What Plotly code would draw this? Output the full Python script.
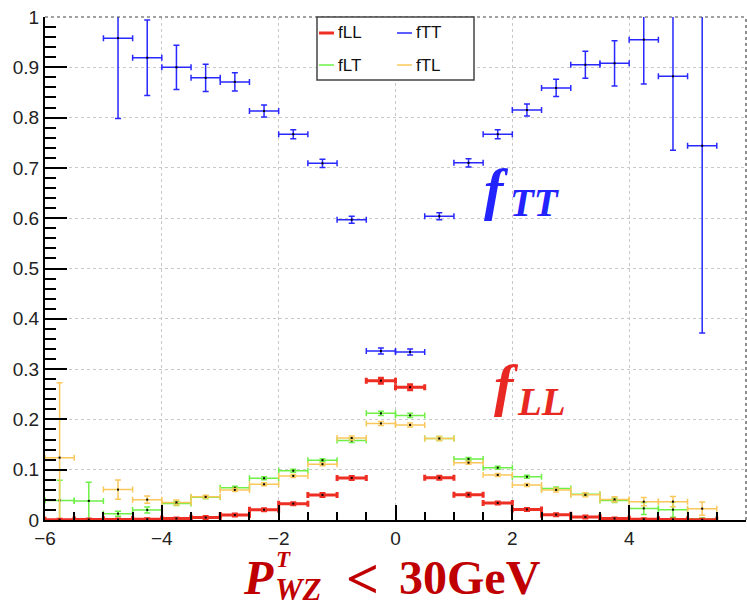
import plotly.graph_objects as go

# ---- data: helicity fractions per bin (bin width 0.5) ----
bin_centers = [-5.75, -5.25, -4.75, -4.25, -3.75, -3.25, -2.75, -2.25, -1.75, -1.25,
               -0.75, -0.25, 0.25, 0.75, 1.25, 1.75, 2.25, 2.75, 3.25, 3.75,
               4.25, 4.75, 5.25]
half_width = 0.25

fLL = [0.0005, 0.0008, 0.001, 0.0015, 0.003, 0.005, 0.010, 0.0205, 0.0325, 0.0498,
       0.0837, 0.277, 0.264, 0.084, 0.0504, 0.0339, 0.021, 0.0106, 0.006, 0.003,
       0.0015, 0.001, 0.0005]
fLL_err = [0.001, 0.001, 0.001, 0.001, 0.001, 0.002, 0.002, 0.002, 0.002, 0.003,
           0.003, 0.005, 0.005, 0.003, 0.003, 0.002, 0.002, 0.002, 0.002, 0.001,
           0.001, 0.001, 0.001]

fLT = [0.039, 0.038, 0.0126, 0.020, 0.033, 0.045, 0.064, 0.083, 0.098, 0.119,
       0.158, 0.212, 0.208, 0.162, 0.1215, 0.104, 0.086, 0.0624, 0.051, 0.039,
       0.023, 0.0206, 0.002]
fLT_err = [0.040, 0.037, 0.005, 0.006, 0.004, 0.003, 0.003, 0.003, 0.003, 0.003,
           0.004, 0.004, 0.004, 0.004, 0.003, 0.003, 0.003, 0.003, 0.003, 0.004,
           0.012, 0.015, 0.002]

fTL = [0.124, None, 0.0604, 0.0405, 0.035, 0.046, 0.0598, 0.071, 0.0876, 0.111,
       0.163, 0.192, 0.189, 0.162, 0.114, 0.0896, 0.0697, 0.0598, 0.050, 0.041,
       0.0365, 0.0365, 0.0226]
fTL_err = [0.149, None, 0.019, 0.007, 0.005, 0.003, 0.003, 0.003, 0.003, 0.003,
           0.004, 0.004, 0.004, 0.004, 0.003, 0.003, 0.003, 0.004, 0.004, 0.005,
           0.008, 0.010, 0.013]

fTT = [None, None, 0.958, 0.919, 0.900, 0.879, 0.871, 0.813, 0.767, 0.709,
       0.597, 0.336, 0.334, 0.604, 0.710, 0.767, 0.815, 0.859, 0.905, 0.908,
       0.955, 0.882, 0.744]
fTT_err = [None, None, 0.16, 0.075, 0.044, 0.027, 0.018, 0.012, 0.009, 0.008,
           0.007, 0.006, 0.006, 0.007, 0.008, 0.009, 0.012, 0.017, 0.027, 0.045,
           0.088, 0.147, 0.372]

x_ticks = [-6, -4, -2, 0, 2, 4, 6]

# ---- styles ----
BLUE = "rgb(40,40,255)"
RED = "rgb(238,45,35)"
GREEN = "rgb(110,240,70)"
ORANGE = "rgb(250,200,90)"
CAPTION = "rgb(192,0,0)"

W, H = 747, 602
ML, MR, MT, MB = 45, 1, 17, 82
PW, PH = W - ML - MR, H - MT - MB


def px(xp):
    return (xp - ML) / PW


def py(yp):
    return (H - MB - yp) / PH


def hist_trace(name, y, err, color, thick):
    return go.Scatter(
        x=bin_centers, y=y, name=name, mode="markers",
        marker=dict(size=2, color="black", symbol="square"),
        error_x=dict(type="constant", value=half_width, color=color,
                     thickness=thick, width=3),
        error_y=dict(type="data", array=err, color=color,
                     thickness=thick, width=3),
        showlegend=False, hoverinfo="x+y",
    )


fig = go.Figure()
fig.add_trace(hist_trace("fLT", fLT, fLT_err, GREEN, 1.5))
fig.add_trace(hist_trace("fTL", fTL, fTL_err, ORANGE, 1.5))
fig.add_trace(hist_trace("fLL", fLL, fLL_err, RED, 3))
fig.add_trace(hist_trace("fTT", fTT, fTT_err, BLUE, 1.5))

axis_font = dict(family="Liberation Sans", size=19, color="#222")

fig.update_xaxes(
    range=[-6, 6], tickvals=x_ticks, ticks="inside", ticklen=15, tickwidth=1.5,
    tickcolor="black", showline=True, linecolor="black", linewidth=2,
    showgrid=True, gridcolor="#c8c8c8", griddash="dot", gridwidth=1,
    zeroline=False, tickfont=axis_font,
    minor=dict(dtick=0.5, ticks="inside", ticklen=8, tickcolor="black",
               tickwidth=1.5, showgrid=False),
)
fig.update_yaxes(
    range=[0, 1], dtick=0.1, ticks="inside", ticklen=22, tickwidth=1.5,
    tickcolor="black", showline=True, linecolor="black", linewidth=2,
    showgrid=True, gridcolor="#c8c8c8", griddash="dot", gridwidth=1,
    zeroline=False, tickfont=axis_font,
    minor=dict(dtick=0.02, ticks="inside", ticklen=11, tickcolor="black",
               tickwidth=1.5, showgrid=False),
)

shapes = [
    # dashed top and right frame
    dict(type="line", xref="paper", yref="paper", x0=0, x1=1, y0=1, y1=1,
         line=dict(color="#444", width=1.2, dash="dot")),
    dict(type="line", xref="paper", yref="paper", x0=1, x1=1, y0=0, y1=1,
         line=dict(color="#444", width=1.2, dash="dot")),
    # legend box
    dict(type="rect", xref="paper", yref="paper",
         x0=px(317), x1=px(474), y0=py(80), y1=py(17),
         line=dict(color="#444", width=1.5), fillcolor="white", layer="above"),
]

legend_items = [
    ("fLL", RED, 3, 319, 33),
    ("fTT", BLUE, 1.5, 397, 33),
    ("fLT", GREEN, 1.5, 319, 65),
    ("fTL", ORANGE, 1.5, 397, 65),
]
annotations = []
for label, color, width, x0, yc in legend_items:
    shapes.append(dict(type="line", xref="paper", yref="paper",
                       x0=px(x0), x1=px(x0 + 15), y0=py(yc), y1=py(yc),
                       line=dict(color=color, width=width), layer="above"))
    annotations.append(dict(text=label, xref="paper", yref="paper",
                            x=px(x0 + 17), y=py(yc), xanchor="left", yanchor="middle",
                            showarrow=False,
                            font=dict(family="Liberation Sans", size=17, color="#111")))

serif = "Liberation Serif"


def label(text, xc, yc, size, color):
    return dict(text=text, xref="paper", yref="paper", x=px(xc), y=py(yc),
                xanchor="center", yanchor="middle", showarrow=False,
                font=dict(family=serif, size=size, color=color))


annotations += [
    # in-plot labels
    label("<b><i>f</i></b>", 496, 189, 58, "rgb(35,35,255)"),
    label("<b><i>TT</i></b>", 535, 203, 39, "rgb(35,35,255)"),
    label("<b><i>f</i></b>", 506, 386, 58, "rgb(232,40,35)"),
    label("<b><i>LL</i></b>", 541, 401, 39, "rgb(232,40,35)"),
    # x-axis caption
    label("<b><i>P</i></b>", 258, 577, 48, CAPTION),
    label("<b><i>T</i></b>", 283, 559, 23, CAPTION),
    label("<b><i>WZ</i></b>", 298, 589, 31, CAPTION),
    label("<b>&lt;</b>", 362, 578, 58, CAPTION),
    label("<b>30GeV</b>", 470, 577, 48, CAPTION),
]

fig.update_layout(
    width=W, height=H,
    margin=dict(l=ML, r=MR, t=MT, b=MB),
    paper_bgcolor="white", plot_bgcolor="white",
    shapes=shapes, annotations=annotations,
    showlegend=False,
)

fig.write_html("out.html")
